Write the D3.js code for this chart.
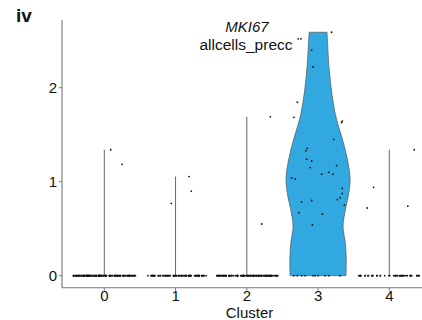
<!DOCTYPE html>
<html><head><meta charset="utf-8">
<script src="https://cdn.jsdelivr.net/npm/d3@7"></script>
<style>body{margin:0;background:#fff}svg{display:block}text{font-family:"Liberation Sans",Arial,sans-serif}</style>
</head><body>
<svg id="c" width="422" height="320"></svg>
<script>
// ---- data ----
const clusters = ["0","1","2","3","4"];
const yTicks = [0, 1, 2];
const gene = "MKI67";
const dataset = "allcells_precc";
const panelTag = "iv";
// non-zero expression values per cluster with their jitter (fraction of category spacing)
const vals0 = [1.34, 1.185];
const jit0  = [0.09, 0.25];
const vals1 = [1.055, 0.90, 0.77];
const jit1  = [0.19, 0.22, -0.06];
const vals2 = [1.69, 0.55];
const jit2  = [0.33, 0.21];
const vals3 = [2.52,2.52,2.59,2.40,2.22,1.845,1.685,1.63,1.645,1.45,1.355,1.33,1.24,1.22,1.17,1.15,1.08,1.10,1.08,1.04,1.03,0.93,0.875,0.83,0.81,0.785,0.80,0.75,0.67,0.655,0.54,0,0,0,0,0,0,0,0,0,0];
const jit3  = [-0.28,-0.24,0.19,-0.09,-0.07,-0.29,-0.34,0.33,0.34,0.22,-0.15,-0.17,-0.16,-0.09,0.26,-0.11,0.05,0.15,0.21,-0.37,-0.32,0.34,0.34,0.31,0.27,-0.23,-0.09,0.37,-0.27,0.06,-0.08,-0.34,-0.29,-0.23,-0.18,-0.07,-0.04,0,0.10,0.15,0.31];
const vals4 = [1.34, 0.94, 0.72, 0.74];
const jit4  = [0.35, -0.22, -0.31, 0.26];
// number of zero-expression cells per cluster (0,1,2,4)
const zeroCounts = [130, 80, 110, 0, 45];
// cluster 3 violin outline: value levels and relative half-width
const violin3Y = [0, 0.167, 0.35, 0.52, 0.70, 0.84, 1.02, 1.23, 1.44, 1.66, 1.87, 2.19, 2.59];
const violin3W = [0.87, 0.88, 0.85, 0.78, 0.85, 0.94, 1.0, 0.92, 0.77, 0.58, 0.46, 0.35, 0.28];

const allVals = [vals0, vals1, vals2, vals3, vals4];
const allJit = [jit0, jit1, jit2, jit3, jit4];

// ---- chart ----
const svg = d3.select("#c");
const x = d3.scalePoint().domain(clusters).range([104.3, 389.3]);
const step = x.step();
const y = d3.scaleLinear().domain([0, 2]).range([275.7, 87.7]);
const pLeft = 62, pBottom = 287.7, pTop = 20;

// violins
const half = 0.45 * step;
const vdat = violin3Y.map((v, i) => ({v, w: violin3W[i]}));
const area = d3.area()
  .y(d => y(d.v))
  .x0(d => x("3") - d.w * half)
  .x1(d => x("3") + d.w * half)
  .curve(d3.curveCatmullRom);
svg.append("path").datum(vdat).attr("d", area)
  .attr("fill", "#31a9e0").attr("stroke", "#555").attr("stroke-width", 0.7);

clusters.forEach((c, i) => {
  if (c === "3") return;
  const mx = d3.max(allVals[i]);
  svg.append("line").attr("x1", x(c)).attr("x2", x(c))
    .attr("y1", y(0)).attr("y2", y(mx))
    .attr("stroke", "#666").attr("stroke-width", 1);
});

// points
const rng = d3.randomLcg(0.4217);
const pts = svg.append("g").attr("fill", "#111");
clusters.forEach((c, i) => {
  allVals[i].forEach((v, k) => {
    pts.append("circle").attr("cx", x(c) + allJit[i][k] * step).attr("cy", y(v)).attr("r", 0.9);
  });
  for (let k = 0; k < zeroCounts[i]; k++) {
    const j = (rng() - 0.5) * 0.88;
    pts.append("circle").attr("cx", x(c) + j * step).attr("cy", y(0)).attr("r", 0.9);
  }
});

// axes
const axCol = "#777";
svg.append("line").attr("x1", pLeft).attr("x2", 430).attr("y1", pBottom).attr("y2", pBottom)
  .attr("stroke", axCol).attr("stroke-width", 1.1);
svg.append("line").attr("x1", pLeft).attr("x2", pLeft).attr("y1", pTop).attr("y2", pBottom)
  .attr("stroke", axCol).attr("stroke-width", 1.1);
yTicks.forEach(t => {
  svg.append("line").attr("x1", pLeft - 3).attr("x2", pLeft).attr("y1", y(t)).attr("y2", y(t))
    .attr("stroke", axCol).attr("stroke-width", 1);
  svg.append("text").attr("x", 57).attr("y", y(t)).attr("dy", "0.36em")
    .attr("text-anchor", "end").attr("font-size", 15).attr("fill", "#111").text(t);
});
clusters.forEach(c => {
  svg.append("line").attr("x1", x(c)).attr("x2", x(c)).attr("y1", pBottom).attr("y2", pBottom + 3)
    .attr("stroke", axCol).attr("stroke-width", 1);
  svg.append("text").attr("x", x(c)).attr("y", 300.5)
    .attr("text-anchor", "middle").attr("font-size", 15).attr("fill", "#111").text(c);
});
svg.append("text").attr("x", 249.5).attr("y", 317.5).attr("text-anchor", "middle")
  .attr("font-size", 15).attr("fill", "#111").text("Cluster");

// titles
svg.append("text").attr("x", 247).attr("y", 32.3).attr("text-anchor", "middle")
  .attr("font-size", 15).attr("font-style", "italic").attr("fill", "#111").text(gene);
svg.append("text").attr("x", 246).attr("y", 50).attr("text-anchor", "middle")
  .attr("font-size", 15.5).attr("fill", "#111").text(dataset);
svg.append("text").attr("x", 16).attr("y", 22.3).attr("font-size", 19)
  .attr("font-weight", "bold").attr("fill", "#111").text(panelTag);
</script>
</body></html>
